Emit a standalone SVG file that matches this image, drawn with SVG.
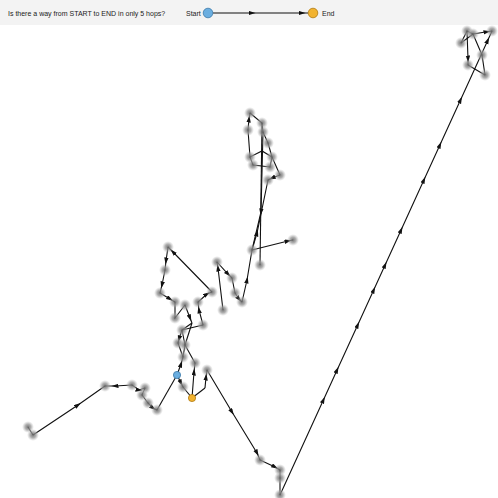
<svg xmlns="http://www.w3.org/2000/svg" width="498" height="498" viewBox="0 0 498 498">
<style>
.e{fill:none;stroke:#111;stroke-width:1.1}
.a{marker-mid:url(#arr)}
.n{fill:url(#ng)}
.t{font-family:"Liberation Sans",Arial,sans-serif;font-size:7px;fill:#222}
</style>
<defs>
<radialGradient id="ng">
<stop offset="0" stop-color="#666" stop-opacity="0.9"/>
<stop offset="0.5" stop-color="#999" stop-opacity="0.75"/>
<stop offset="1" stop-color="#bbb" stop-opacity="0"/>
</radialGradient>
<marker id="arr" markerUnits="userSpaceOnUse" markerWidth="8" markerHeight="5" refX="3.5" refY="2.2" orient="auto">
<path d="M0,0 L7,2.2 L0,4.4 z" fill="#111"/>
</marker>
</defs>
<rect width="498" height="498" fill="#fff"/>
<rect width="498" height="25" fill="#f3f3f3"/>
<g id="header">
<text class="t" x="8" y="16">Is there a way from START to END in only 5 hops?</text>
<text class="t" x="186" y="16">Start</text>
<text class="t" x="322" y="16">End</text>
<path class="e a" d="M213,13 L252,13 L302,13 L308,13"/>
<circle cx="208" cy="13" r="4.8" fill="#6aaee0" stroke="#3b78a8" stroke-width="0.8"/>
<circle cx="313" cy="13" r="4.8" fill="#f2b330" stroke="#b07a10" stroke-width="0.8"/>
</g>
<g id="connectors">
<path class="e" d="M28,427 L33,435"/>
<path class="e a" d="M33,435 L78,405 L105,386"/>
<path class="e a" d="M132,385 L115,386 L105,386"/>
<path class="e a" d="M132,385 L139,390 L145,388"/>
<path class="e" d="M145,388 L142,395 L148,403"/>
<path class="e a" d="M148,403 L153,408 L157,410"/>
<path class="e" d="M157,410 L177,375"/>
<path class="e a" d="M177,375 L181,364 L183,357"/>
<path class="e a" d="M177,375 L181,383 L183,387"/>
<path class="e" d="M183,387 L192,398"/>
<path class="e a" d="M192,398 L194,372 L195,363"/>
<path class="e" d="M192,398 L205,388"/>
<path class="e a" d="M205,388 L206,377 L207,370"/>
<path class="e a" d="M207,370 L232,412 L257,453 L260,460"/>
<path class="e a" d="M260,460 L275,467 L280,470"/>
<path class="e" d="M280,470 L280,478 L280,495"/>
<path class="e a" d="M280,495 L323.4,400 L337.1,370 L357.7,325 L373.7,290 L385.1,265 L401.1,230 L423.9,180 L439.9,145 L460.5,100 L487.7,40.4 L492,31"/>
<path class="e a" d="M467,31 L468,59 L468,65"/>
<path class="e" d="M461,43 L467,31 L473,34"/>
<path class="e a" d="M473,34 L487,31.8 L492,31"/>
<path class="e" d="M473,34 L482,55 L485,75"/>
<path class="e" d="M468,65 L485,75"/>
<path class="e" d="M461,43 L473,34"/>
<path class="e a" d="M248,130 L249,119 L250,113"/>
<path class="e" d="M250,113 L262,123 L263,132 L268,143"/>
<path class="e" d="M248,130 L250,157 L262,151 L272,157"/>
<path class="e" d="M250,157 L253,165 L270,167 L272,157"/>
<path class="e" d="M268,143 L272,157 L280,175"/>
<path class="e a" d="M280,175 L272,178 L268,180"/>
<path class="e" d="M262,123 L260,265"/>
<path class="e a" d="M263,132 L261,212 L252,250"/>
<path class="e a" d="M252,250 L288,241 L293,240"/>
<path class="e a" d="M252,250 L257,233 L268,180"/>
<path class="e a" d="M242,302 L247,280 L252,250"/>
<path class="e a" d="M223,310 L218,268 L217,262"/>
<path class="e a" d="M217,262 L228,274 L232,278"/>
<path class="e" d="M232,278 L235,293"/>
<path class="e a" d="M235,293 L239,299 L242,302"/>
<path class="e a" d="M212,292 L173,252 L168,247"/>
<path class="e a" d="M168,247 L166,261 L165,270"/>
<path class="e a" d="M165,270 L162,285 L160,293"/>
<path class="e a" d="M160,293 L170,299 L175,302"/>
<path class="e" d="M175,302 L175,318 L185,305"/>
<path class="e a" d="M185,305 L190,318 L192,323"/>
<path class="e" d="M192,323 L182,330 L203,325"/>
<path class="e a" d="M203,325 L199,310 L198,302"/>
<path class="e a" d="M198,302 L207,294 L212,292"/>
<path class="e a" d="M182,330 L179,339 L178,343"/>
<path class="e" d="M178,343 L183,357"/>
<path class="e" d="M192,323 L185,345 L195,363"/>
<path class="e" d="M185,345 L182,330"/>
<path class="e" d="M183,357 L185,345"/>
</g>
<g id="n1"><circle class="n" cx="33" cy="435" r="6"/></g>
<g id="n2"><circle class="n" cx="28" cy="427" r="6"/></g>
<g id="n3"><circle class="n" cx="105" cy="386" r="6"/></g>
<g id="n4"><circle class="n" cx="132" cy="385" r="6"/></g>
<g id="n5"><circle class="n" cx="145" cy="388" r="6"/></g>
<g id="n6"><circle class="n" cx="142" cy="395" r="6"/></g>
<g id="n7"><circle class="n" cx="148" cy="403" r="6"/></g>
<g id="n8"><circle class="n" cx="157" cy="410" r="6"/></g>
<g id="n9"><circle class="n" cx="183" cy="387" r="6"/></g>
<g id="n10"><circle class="n" cx="195" cy="363" r="6"/></g>
<g id="n11"><circle class="n" cx="207" cy="370" r="6"/></g>
<g id="n12"><circle class="n" cx="183" cy="357" r="6"/></g>
<g id="n13"><circle class="n" cx="178" cy="343" r="6"/></g>
<g id="n14"><circle class="n" cx="185" cy="345" r="6"/></g>
<g id="n15"><circle class="n" cx="182" cy="330" r="6"/></g>
<g id="n16"><circle class="n" cx="175" cy="318" r="6"/></g>
<g id="n17"><circle class="n" cx="175" cy="302" r="6"/></g>
<g id="n18"><circle class="n" cx="185" cy="305" r="6"/></g>
<g id="n19"><circle class="n" cx="203" cy="325" r="6"/></g>
<g id="n20"><circle class="n" cx="198" cy="302" r="6"/></g>
<g id="n21"><circle class="n" cx="212" cy="292" r="6"/></g>
<g id="n22"><circle class="n" cx="160" cy="293" r="6"/></g>
<g id="n23"><circle class="n" cx="165" cy="270" r="6"/></g>
<g id="n24"><circle class="n" cx="168" cy="247" r="6"/></g>
<g id="n25"><circle class="n" cx="217" cy="262" r="6"/></g>
<g id="n26"><circle class="n" cx="232" cy="278" r="6"/></g>
<g id="n27"><circle class="n" cx="235" cy="293" r="6"/></g>
<g id="n28"><circle class="n" cx="242" cy="302" r="6"/></g>
<g id="n29"><circle class="n" cx="223" cy="310" r="6"/></g>
<g id="n30"><circle class="n" cx="252" cy="250" r="6"/></g>
<g id="n31"><circle class="n" cx="260" cy="265" r="6"/></g>
<g id="n32"><circle class="n" cx="293" cy="240" r="6"/></g>
<g id="n33"><circle class="n" cx="268" cy="180" r="6"/></g>
<g id="n34"><circle class="n" cx="280" cy="175" r="6"/></g>
<g id="n35"><circle class="n" cx="270" cy="167" r="6"/></g>
<g id="n36"><circle class="n" cx="272" cy="157" r="6"/></g>
<g id="n37"><circle class="n" cx="253" cy="165" r="6"/></g>
<g id="n38"><circle class="n" cx="250" cy="157" r="6"/></g>
<g id="n39"><circle class="n" cx="268" cy="143" r="6"/></g>
<g id="n40"><circle class="n" cx="263" cy="132" r="6"/></g>
<g id="n41"><circle class="n" cx="262" cy="123" r="6"/></g>
<g id="n42"><circle class="n" cx="248" cy="130" r="6"/></g>
<g id="n43"><circle class="n" cx="250" cy="113" r="6"/></g>
<g id="n44"><circle class="n" cx="260" cy="460" r="6"/></g>
<g id="n45"><circle class="n" cx="280" cy="470" r="6"/></g>
<g id="n46"><circle class="n" cx="280" cy="478" r="6"/></g>
<g id="n47"><circle class="n" cx="280" cy="495" r="6"/></g>
<g id="t1"><circle class="n" cx="467" cy="31" r="6"/></g>
<g id="t2"><circle class="n" cx="473" cy="34" r="6"/></g>
<g id="t3"><circle class="n" cx="461" cy="43" r="6"/></g>
<g id="t4"><circle class="n" cx="492" cy="31" r="6"/></g>
<g id="t5"><circle class="n" cx="482" cy="55" r="6"/></g>
<g id="t6"><circle class="n" cx="468" cy="65" r="6"/></g>
<g id="t7"><circle class="n" cx="485" cy="75" r="6"/></g>
<g id="start"><circle cx="177" cy="375" r="3.6" fill="#6aaee0" stroke="#3b78a8" stroke-width="0.8"/></g>
<g id="end"><circle cx="192" cy="398" r="3.6" fill="#f2b330" stroke="#b07a10" stroke-width="0.8"/></g>
</svg>
